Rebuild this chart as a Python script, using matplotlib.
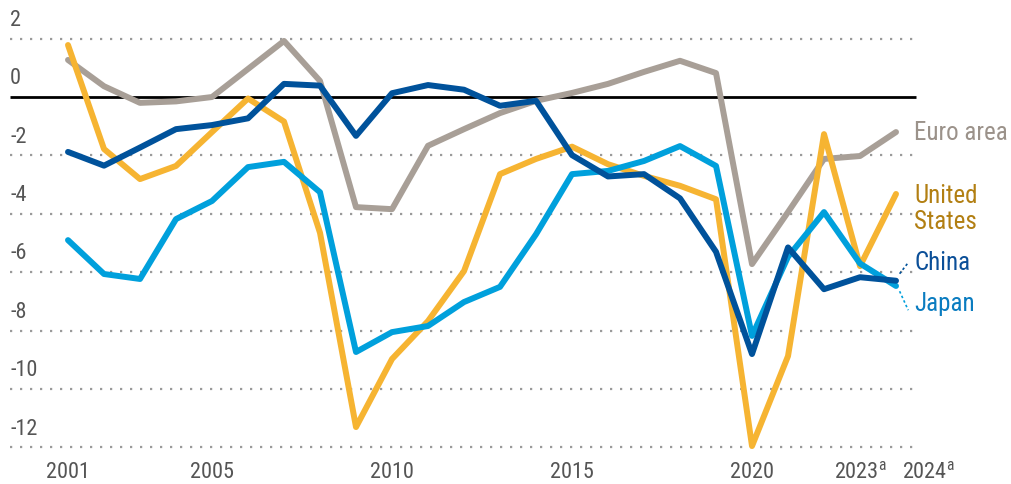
import numpy as np
import matplotlib
matplotlib.use("Agg")
import matplotlib.pyplot as plt
from matplotlib import font_manager

years = np.arange(2001, 2025)

euro_area = [1.27, 0.37, -0.2, -0.15, 0.0, 0.96, 1.92, 0.55, -3.77, -3.84,
             -1.67, -1.1, -0.55, -0.13, 0.14, 0.45, 0.86, 1.24, 0.82, -5.72,
             -3.94, -2.12, -2.02, -1.2]
united_states = [1.78, -1.78, -2.81, -2.36, -1.2, -0.05, -0.84, -4.65, -11.3, -8.97,
                 -7.67, -5.96, -2.64, -2.12, -1.7, -2.3, -2.7, -3.04, -3.5, -11.95,
                 -8.87, -1.27, -5.79, -3.32]
japan = [-4.9, -6.06, -6.23, -4.18, -3.56, -2.4, -2.22, -3.26, -8.73, -8.05,
         -7.84, -7.02, -6.5, -4.7, -2.64, -2.53, -2.19, -1.68, -2.36, -8.18,
         -5.47, -3.94, -5.7, -6.47]
china = [-1.88, -2.35, -1.73, -1.1, -0.96, -0.73, 0.45, 0.39, -1.33, 0.13,
         0.41, 0.25, -0.3, -0.13, -1.99, -2.72, -2.64, -3.47, -5.3, -8.8,
         -5.15, -6.58, -6.17, -6.29]

grid_vals = [2, -2, -4, -6, -8, -10, -12]
ytick_vals = [2, 0, -2, -4, -6, -8, -10, -12]
xtick_years = [2001, 2005, 2010, 2015, 2020, 2023]
xtick_labels = ['2001', '2005', '2010', '2015', '2020', '2023$^\\mathregular{a}$']

# look for a narrow / condensed face, the original uses a condensed grotesque
narrow = None
for f in font_manager.fontManager.ttflist:
    nm = f.name.lower()
    if f.style == 'normal' and f.weight in (400, 'normal') and \
            ('narrow' in nm or 'condensed' in nm or f.stretch in ('condensed', 'semi-condensed')):
        narrow = f
        if 'liberation' in nm or 'roboto' in nm:
            break

if narrow is not None:
    font_manager.fontManager.addfont(narrow.fname)
    plt.rcParams['font.family'] = [narrow.name, 'DejaVu Sans']
    plt.rcParams['font.stretch'] = narrow.stretch
    tick_fs, lab_fs = 16, 18
else:
    plt.rcParams['font.family'] = ['Liberation Sans', 'DejaVu Sans']
    tick_fs, lab_fs = 15, 15.5

c_euro = '#a89f97'
c_us = '#f6b432'
c_japan = '#00a0dc'
c_china = '#00529b'
tick_col = '#555555'

fig = plt.figure(figsize=(10.11, 4.85), dpi=100)
ax = fig.add_axes([0, 0, 1, 1])
ax.set_xlim(1999.111, 2027.194)
ax.set_ylim(-13.25, 3.356)
ax.axis('off')

# grid
x0, x1 = 1999.39, 2024.47
ax.hlines(grid_vals, x0, x1, colors='#9a9a9a', linestyles=(0, (1, 3.5)), lw=1.6, zorder=1)
ax.hlines(0, x0, 2024.55, colors='black', lw=2, zorder=1)

for v in ytick_vals:
    ax.text(x0, v + 0.3, str(v), ha='left', va='bottom', fontsize=tick_fs, color=tick_col)

for yr, lab in zip(xtick_years, xtick_labels):
    ax.text(yr, -12.45, lab, ha='center', va='top', fontsize=tick_fs, color=tick_col)
ax.text(2024.17, -12.45, '2024$^\\mathregular{a}$', ha='left', va='top', fontsize=tick_fs, color=tick_col)

lw = 4.3
ax.plot(years, euro_area, color=c_euro, lw=lw, solid_capstyle='round', zorder=2)
ax.plot(years, united_states, color=c_us, lw=lw, solid_capstyle='round', zorder=3)
ax.plot(years, japan, color=c_japan, lw=lw, solid_capstyle='round', zorder=4)
ax.plot(years, china, color=c_china, lw=lw, solid_capstyle='round', zorder=5)

# series labels
lx = 2024.5
ax.text(lx, -1.2, 'Euro area', ha='left', va='center', fontsize=lab_fs, color='#9b928a')
ax.text(lx, -3.8, 'United\nStates', ha='left', va='center', fontsize=lab_fs, color='#b27f12',
        linespacing=1.1)
ax.text(lx, -5.65, 'China', ha='left', va='center', fontsize=lab_fs, color='#0b4f98')
ax.text(lx, -7.05, 'Japan', ha='left', va='center', fontsize=lab_fs, color='#0a7cc0')

# leader lines
ax.plot([2024.1, 2024.32], [-6.05, -5.7], color=c_china, lw=1.2, ls=(0, (1.5, 1.5)))
ax.plot([2024.1, 2024.34], [-6.65, -7.3], color=c_japan, lw=1.2, ls=(0, (1.5, 1.5)))

fig.savefig('out.png', dpi=100)
